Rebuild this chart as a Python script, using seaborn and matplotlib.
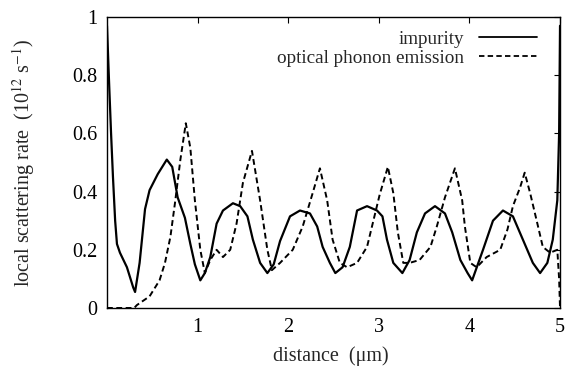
import matplotlib
matplotlib.use("Agg")
import matplotlib.pyplot as plt
import seaborn as sns
import pandas as pd

# impurity (solid)
imp_x = [0.0, 0.02, 0.045, 0.066, 0.09, 0.11, 0.143, 0.22, 0.29, 0.31, 0.36, 0.42,
         0.47, 0.56, 0.66, 0.72, 0.78, 0.86, 0.92, 0.97, 1.03, 1.08, 1.14, 1.21,
         1.28, 1.39, 1.47, 1.55, 1.61, 1.69, 1.77, 1.84, 1.91, 2.02, 2.13, 2.24,
         2.32, 2.38, 2.46, 2.52, 2.60, 2.68, 2.76, 2.87, 2.98, 3.04, 3.09, 3.16,
         3.26, 3.34, 3.42, 3.51, 3.62, 3.73, 3.81, 3.90, 3.98, 4.03, 4.15, 4.26,
         4.37, 4.48, 4.59, 4.70, 4.78, 4.86, 4.92, 4.97, 4.99, 5.0]
imp_y = [0.97, 0.80, 0.60, 0.45, 0.30, 0.22, 0.19, 0.14, 0.07, 0.055, 0.155, 0.34,
         0.405, 0.46, 0.51, 0.485, 0.38, 0.31, 0.22, 0.15, 0.095, 0.12, 0.175, 0.29,
         0.335, 0.36, 0.35, 0.315, 0.235, 0.155, 0.12, 0.15, 0.23, 0.315, 0.335, 0.325,
         0.28, 0.21, 0.155, 0.12, 0.14, 0.21, 0.335, 0.35, 0.335, 0.315, 0.235, 0.155,
         0.12, 0.165, 0.26, 0.325, 0.35, 0.325, 0.26, 0.165, 0.12, 0.095, 0.20, 0.30,
         0.335, 0.315, 0.235, 0.155, 0.12, 0.155, 0.235, 0.37, 0.60, 0.97]

# optical phonon emission (dashed)
opt_x = [0.0, 0.30, 0.33, 0.47, 0.58, 0.64, 0.70, 0.75, 0.81, 0.87, 0.92, 0.97,
         1.03, 1.08, 1.14, 1.21, 1.28, 1.36, 1.43, 1.50, 1.60, 1.69, 1.77, 1.82,
         1.91, 2.05, 2.16, 2.27, 2.35, 2.43, 2.49, 2.57, 2.65, 2.76, 2.87, 2.94,
         3.01, 3.10, 3.16, 3.21, 3.27, 3.34, 3.45, 3.57, 3.64, 3.73, 3.84, 3.92,
         3.95, 4.01, 4.08, 4.19, 4.34, 4.42, 4.48, 4.56, 4.61, 4.67, 4.75, 4.81,
         4.89, 4.97, 4.99, 5.0]
opt_y = [0.0, 0.0, 0.01, 0.04, 0.095, 0.155, 0.245, 0.36, 0.51, 0.635, 0.55, 0.37,
         0.20, 0.12, 0.165, 0.20, 0.175, 0.20, 0.29, 0.43, 0.54, 0.37, 0.20, 0.13,
         0.155, 0.20, 0.28, 0.395, 0.48, 0.37, 0.235, 0.155, 0.14, 0.155, 0.21, 0.30,
         0.39, 0.485, 0.395, 0.26, 0.155, 0.155, 0.165, 0.21, 0.28, 0.38, 0.48, 0.37,
         0.28, 0.155, 0.14, 0.175, 0.20, 0.27, 0.35, 0.415, 0.465, 0.395, 0.29, 0.21,
         0.19, 0.20, 0.10, 0.0]

xticks = [1, 2, 3, 4, 5]
yticks = [0, 0.2, 0.4, 0.6, 0.8, 1]
ytick_labels = ["0", "0.2", "0.4", "0.6", "0.8", "1"]

sns.set_theme(style="white")
plt.rcParams["font.family"] = ["Liberation Serif", "DejaVu Serif"]
plt.rcParams["mathtext.fontset"] = "stix"
plt.rcParams["xtick.direction"] = "in"
plt.rcParams["ytick.direction"] = "in"

df_imp = pd.DataFrame({"x": imp_x, "y": imp_y})
df_opt = pd.DataFrame({"x": opt_x, "y": opt_y})

fs = 14.5

fig, ax = plt.subplots(figsize=(5.7, 3.74), dpi=100)
fig.subplots_adjust(left=0.1877, right=0.9825, bottom=0.1765, top=0.9545)

sns.lineplot(data=df_imp, x="x", y="y", ax=ax, color="black", linewidth=1.6,
             estimator=None, sort=False, label="impurity")
sns.lineplot(data=df_opt, x="x", y="y", ax=ax, color="black", linewidth=1.4,
             estimator=None, sort=False, linestyle=(0, (3, 1.8)),
             label="optical phonon emission")

ax.set_xlim(0, 5)
ax.set_ylim(0, 1)
ax.set_xticks(xticks)
ax.set_xticklabels([str(t) for t in xticks])
ax.set_yticks(yticks)
ax.set_yticklabels(ytick_labels)
ax.tick_params(axis="both", which="both", direction="in", length=4.5, width=0.8,
               top=True, right=True, labelsize=fs, pad=7, colors="black")
for s in ax.spines.values():
    s.set_color("black")
    s.set_linewidth(1.0)

ax.set_xlabel("distance  (\u03bcm)", fontsize=fs)
ax.set_ylabel("local scattering rate  (10$^{12}$ s$^{-1}$)", fontsize=fs)
ax.yaxis.set_label_coords(-0.155, 0.5)
ax.xaxis.set_label_coords(0.494, -0.13)

leg = ax.legend(loc="upper right", bbox_to_anchor=(0.949, 0.955), frameon=False,
                markerfirst=False, fontsize=13.8, handlelength=3.0,
                handletextpad=0.8, labelspacing=0.1, borderpad=0,
                borderaxespad=0)
leg.get_lines()[0].set_linewidth(1.3)
leg.get_lines()[1].set_linewidth(1.3)

fig.savefig("out.png", dpi=100)
